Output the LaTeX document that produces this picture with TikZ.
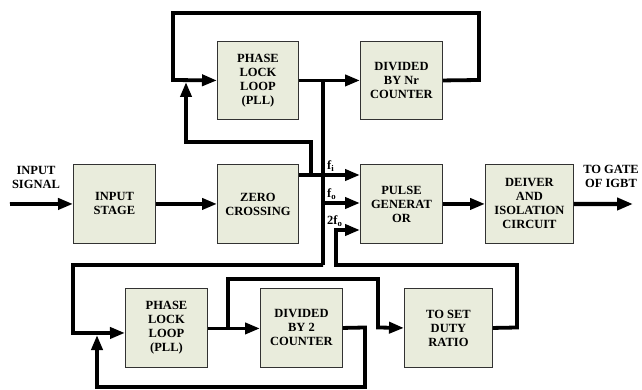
\documentclass[tikz,border=0pt]{standalone}
\usepackage{fontspec}
\setmainfont{Liberation Serif}
\usetikzlibrary{arrows.meta,calc}
\definecolor{boxfill}{RGB}{233,236,220}
\definecolor{boxline}{RGB}{50,50,50}
\tikzset{
  blk/.style={draw=boxline, line width=0.9pt, fill=boxfill, anchor=north west, inner sep=1pt,
    align=center, font=\fontsize{12.5}{14}\selectfont\bfseries},
  wire/.style={line width=3.8pt, line join=miter},
  arr/.style={wire, -{Triangle[length=15pt,width=11pt]}},
  lbl/.style={font=\fontsize{12.5}{14}\selectfont\bfseries, align=center, inner sep=0pt},
}
\begin{document}
\begin{tikzpicture}[x=1pt,y=-1pt]
\useasboundingbox (0,0) rectangle (642,390);
% blocks
\node[blk, minimum width=81pt, minimum height=78pt] (pllA) at (217,41) {PHASE\\LOCK\\LOOP\\(PLL)};
\node[blk, minimum width=82pt, minimum height=78pt] (divN) at (360,41) {DIVIDED\\BY Nr\\COUNTER};
\node[blk, minimum width=82pt, minimum height=79pt] (inst) at (73,164) {INPUT\\STAGE};
\node[blk, minimum width=81pt, minimum height=79pt] (zc) at (217,164) {ZERO\\CROSSING};
\node[blk, minimum width=82pt, minimum height=79pt] (pg) at (360,164) {PULSE\\GENERAT\\OR};
\node[blk, minimum width=88pt, minimum height=79pt] (drv) at (485,164) {DEIVER\\AND\\ISOLATION\\CIRCUIT};
\node[blk, minimum width=82pt, minimum height=79pt] (pllB) at (125,288) {PHASE\\LOCK\\LOOP\\(PLL)};
\node[blk, minimum width=82pt, minimum height=79pt] (div2) at (260,288) {DIVIDED\\BY 2\\COUNTER};
\node[blk, minimum width=88pt, minimum height=79pt] (duty) at (404,288) {TO SET\\DUTY\\RATIO};
% text labels
\node[lbl] (insig) at (36,177) {INPUT\\SIGNAL};
\node[lbl] (gate) at (611,176) {TO GATE\\OF IGBT};
\node[lbl, anchor=south west] (fi) at (327,172) {f\textsubscript{i}};
\node[lbl, anchor=south west] (fo) at (327,200) {f\textsubscript{o}};
\node[lbl, anchor=south west] (tfo) at (327,227) {2f\textsubscript{o}};
% coordinates
\coordinate (inS) at (10,204);
\coordinate (outE) at (633,204);
\coordinate (zcO) at ($(zc.north east)+(0,11)$);
\coordinate (busTop) at (323,80);
\coordinate (busBot) at (323,265);
% main path
\draw[arr] (inS) -- (inst.west);
\draw[arr] (inst.east) -- (zc.west);
\draw[arr] (zcO) -- (zcO -| pg.west);
\draw[arr] (pg.east) -- (drv.west);
\draw[wire, line width=4.4pt, -{Triangle[length=16pt,width=12pt]}] (drv.east) -- (outE);
% reference to top PLL
\draw[arr] (311,175) -- (311,142) -- (186,142) -- (186,82);
% top PLL loop
\draw[arr] (pllA.east) -- (divN.west);
\draw[arr] (divN.east) -- (479,80) -- (479,13) -- (173,13) -- (173,80) -- (pllA.west);
% bus
\draw[wire] (busTop) -- (busBot);
\draw[arr] (323,203) -- (pg.west |- 0,203);
\draw[arr] (busBot) -- (73,265) -- (73,333) -- ($(pllB.west)+(0,5)$);
% bottom PLL loop
\draw[arr] ($(pllB.east)+(0,0.5)$) -- ($(div2.west)+(0,0.5)$);
\draw[arr] (228,328) -- (228,279) -- (378,279) -- (378,327.5) -- (duty.west);
\draw[arr] (div2.east) -- (365,327.5) -- (365,387) -- (97,387) -- (97,335);
% 2fo
\draw[arr] (duty.east) -- (517,327.5) -- (517,265) -- (336,265) -- (336,230) -- (pg.west |- 0,230);
\end{tikzpicture}
\end{document}
